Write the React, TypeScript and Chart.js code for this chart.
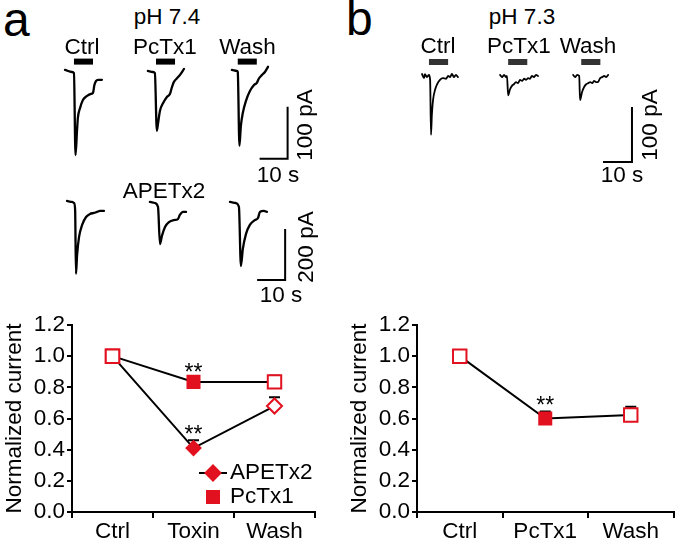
import React, { useEffect, useRef } from 'react';
import { Chart, registerables } from 'chart.js';

Chart.register(...registerables);

const FONT = '"Liberation Sans", Arial, Helvetica, sans-serif';
const FS = 22.5;
const RED = '#e2111f';
Chart.defaults.font.family = FONT;
Chart.defaults.color = '#000';

type Pt = [number, number]; // [time from sweep start (s), current (pA)]

// ---------- Panel a, pH 7.4, PcTx1 row ----------
const aCtrlTrace: Pt[] = [
  [0, 4], [2.5, 0], [3.2, -2], [3.75, -160], [4.3, -112], [4.6, -88], [5.4, -69], [6.4, -54],
  [7.9, -46], [9.3, -42], [10.0, -40], [10.5, -25], [11.1, -17], [11.8, -15], [13.2, -15],
];
const aPcTx1Trace: Pt[] = [
  [0, 2], [1.8, 0], [2.5, -2], [3.2, -113], [3.6, -100], [4.3, -75], [5.4, -60], [6.8, -48],
  [7.9, -42], [8.6, -29], [9.3, -19], [10.4, -12], [11.4, -6], [12.9, 6],
];
const aWashTrace: Pt[] = [
  [0, 4], [1.8, 2], [2.1, 0], [2.7, -142], [3.2, -104], [3.9, -79], [5.0, -56], [6.4, -37],
  [7.9, -25], [8.9, -21], [9.6, -13], [10.7, -6], [11.8, 0], [12.9, 10],
];
const aSweepStarts = [0, 29.6, 59.6];
const aStimOn = [3.2, 2.9, 2.1];
const aStimDur = 6.8;

// ---------- Panel a, APETx2 row ----------
const a2CtrlTrace: Pt[] = [
  [0, 8], [1.8, 4], [2.5, 0], [2.9, -27], [3.2, -278], [3.6, -204], [4.3, -133], [5.4, -86],
  [6.8, -55], [8.2, -43], [9.6, -39], [10.7, -35], [11.8, -31], [13.2, -31],
];
const a2ApetTrace: Pt[] = [
  [0, 4], [1.8, 0], [2.9, -16], [3.6, -161], [4.3, -129], [5.4, -94], [6.8, -75], [8.6, -67],
  [10.0, -63], [10.7, -47], [11.8, -35], [12.9, -35],
];
const a2WashTrace: Pt[] = [
  [0, 4], [2.1, 0], [3.2, -16], [3.9, -247], [4.6, -180], [5.7, -122], [7.1, -86], [8.9, -67],
  [10.0, -59], [10.7, -35], [12.1, -31], [13.2, -35],
];
const a2SweepStarts = [0, 29.6, 58.2];

// ---------- Panel b, pH 7.3 ----------
const bCtrlTrace: Pt[] = [
  [0, 3.6], [0.7, -3.6], [1.0, 3.6], [1.7, -1.8], [2.4, 1.8], [2.8, -7], [3.1, -107], [3.4, -71],
  [3.8, -44], [4.5, -25], [5.2, -15], [6.2, -7], [7.2, -4], [8.3, -5], [9.0, 0], [9.7, -2],
  [10.3, 4], [11.0, -2], [11.7, 2], [12.4, -2],
];
const bPcTx1Trace: Pt[] = [
  [0, 2], [0.7, -2], [1.4, 2], [2.1, -2], [2.4, 0], [2.8, -35], [3.4, -25], [4.1, -18], [4.8, -15],
  [5.5, -11], [6.2, -13], [6.9, -7], [7.6, -9], [8.3, -5], [9.0, -7], [9.7, -4], [10.3, -5],
  [11.0, 0], [11.7, -2], [12.4, 2], [13.1, 0],
];
const bWashTrace: Pt[] = [
  [0, 2], [0.7, -2], [1.4, 2], [2.1, 0], [2.4, -44], [3.1, -29], [3.8, -20], [4.5, -15], [5.2, -13],
  [5.9, -11], [6.6, -13], [7.2, -9], [7.9, -11], [8.6, -11], [9.3, -4], [10.0, -2], [10.7, 0],
  [11.4, -2], [12.1, 2],
];
const bSweepStarts = [0, 26.9, 52.1];
const bStimOn = [2.4, 2.8, 2.8];
const bStimDur = 6.6;

// ---------- Summary plots ----------
const conditionsA = ['Ctrl', 'Toxin', 'Wash'];
const apetx2Mean = [1.0, 0.41, 0.68];
const apetx2Sem = [0, 0.05, 0.057];
const pctx1MeanA = [1.0, 0.835, 0.835];
const pctx1SemA = [0, 0.02, 0.04];
const sigApetx2 = ['', '**', ''];
const sigPctx1A = ['', '**', ''];

const conditionsB = ['Ctrl', 'PcTx1', 'Wash'];
const pctx1MeanB = [1.0, 0.6, 0.623];
const pctx1SemB = [0, 0.045, 0.052];
const sigPctx1B = ['', '**', ''];

// ---------- helpers ----------
type ScaleBar = { t: number; i: number; dt: number; di: number };

function buildTraceConfig(p: {
  sweeps: Pt[][]; starts: number[]; stimOn?: number[]; stimDur?: number; stimLevel?: number;
  stimColor?: string; scaleBar: ScaleBar; xMin: number; xMax: number; yMin: number; yMax: number; lw: number;
}): any {
  const datasets: any[] = [];
  p.sweeps.forEach((sw, k) => {
    datasets.push({
      data: sw.map(([t, i]) => ({ x: p.starts[k] + t, y: i })),
      borderColor: '#000', borderWidth: p.lw, cubicInterpolationMode: 'monotone',
      pointRadius: 0, borderJoinStyle: 'round', borderCapStyle: 'round', fill: false,
    });
    if (p.stimOn) {
      const on = p.starts[k] + p.stimOn[k];
      datasets.push({
        data: [{ x: on, y: p.stimLevel }, { x: on + (p.stimDur as number), y: p.stimLevel }],
        borderColor: p.stimColor, borderWidth: 6, borderCapStyle: 'butt', pointRadius: 0, fill: false,
      });
    }
  });
  const sb = p.scaleBar;
  datasets.push({
    data: [{ x: sb.t - sb.dt, y: sb.i - sb.di }, { x: sb.t, y: sb.i - sb.di }, { x: sb.t, y: sb.i }],
    borderColor: '#000', borderWidth: 2, pointRadius: 0, borderCapStyle: 'butt', borderJoinStyle: 'miter', fill: false,
  });
  return {
    type: 'line',
    data: { datasets },
    options: {
      animation: false, responsive: false, events: [],
      layout: { padding: 0 },
      plugins: { legend: { display: false }, tooltip: { enabled: false } },
      scales: {
        x: { type: 'linear', display: false, min: p.xMin, max: p.xMax },
        y: { type: 'linear', display: false, min: p.yMin, max: p.yMax },
      },
    },
  };
}

function drawMarker(ctx: CanvasRenderingContext2D, style: string, x: number, y: number, r: number, fill: string) {
  ctx.save();
  ctx.beginPath();
  if (style === 'rectRot') {
    ctx.moveTo(x, y - r); ctx.lineTo(x + r, y); ctx.lineTo(x, y + r); ctx.lineTo(x - r, y); ctx.closePath();
  } else {
    const s = r * Math.SQRT1_2;
    ctx.rect(x - s, y - s, 2 * s, 2 * s);
  }
  ctx.fillStyle = fill; ctx.fill();
  ctx.strokeStyle = RED; ctx.lineWidth = 2; ctx.stroke();
  ctx.restore();
}

const errorBarPlugin = {
  id: 'errorBars',
  beforeDatasetsDraw(chart: any) {
    const { ctx } = chart; const ys = chart.scales.y;
    chart.data.datasets.forEach((ds: any, di: number) => {
      const meta = chart.getDatasetMeta(di);
      meta.data.forEach((pt: any, j: number) => {
        const e = ds.sem ? ds.sem[j] : 0;
        if (!e) return;
        const top = ys.getPixelForValue(ds.data[j] + e);
        ctx.save(); ctx.strokeStyle = '#000'; ctx.lineWidth = 2;
        ctx.beginPath(); ctx.moveTo(pt.x, pt.y); ctx.lineTo(pt.x, top);
        ctx.moveTo(pt.x - 5.5, top); ctx.lineTo(pt.x + 5.5, top); ctx.stroke(); ctx.restore();
      });
    });
  },
  afterDatasetsDraw(chart: any) {
    const { ctx } = chart; const ys = chart.scales.y;
    chart.data.datasets.forEach((ds: any, di: number) => {
      const meta = chart.getDatasetMeta(di);
      meta.data.forEach((pt: any, j: number) => {
        const s = ds.sig ? ds.sig[j] : '';
        if (!s) return;
        const top = ys.getPixelForValue(ds.data[j] + (ds.sem ? ds.sem[j] : 0));
        ctx.save(); ctx.fillStyle = '#000'; ctx.font = `23px ${FONT}`;
        ctx.textAlign = 'center'; ctx.textBaseline = 'alphabetic';
        ctx.fillText(s, pt.x, top + 1.5); ctx.restore();
      });
    });
  },
};

function makeLegendPlugin(enabled: boolean) {
  return {
    id: 'sampleLegend',
    afterDraw(chart: any) {
      if (!enabled) return;
      const { ctx } = chart; const { right, bottom } = chart.chartArea;
      chart.data.datasets.forEach((ds: any, d: number) => {
        const cy = bottom - 39 + d * 24;
        const cx = right - 102;
        if (ds.legendLine) {
          ctx.save(); ctx.strokeStyle = '#000'; ctx.lineWidth = 2;
          ctx.beginPath(); ctx.moveTo(cx - 14, cy); ctx.lineTo(cx + 14, cy); ctx.stroke(); ctx.restore();
        }
        drawMarker(ctx, ds.legendStyle, cx, cy, ds.legendStyle === 'rectRot' ? 7.5 : 8.5, RED);
        ctx.save(); ctx.fillStyle = '#000'; ctx.font = `${FS}px ${FONT}`;
        ctx.textAlign = 'left'; ctx.textBaseline = 'middle';
        ctx.fillText(ds.label, cx + 17, cy); ctx.restore();
      });
    },
  };
}

function buildSummaryConfig(labels: string[], datasets: any[], legend: boolean, padRight: number): any {
  return {
    type: 'line',
    data: { labels, datasets },
    options: {
      animation: false, responsive: false, events: [],
      layout: { padding: { left: 0, top: 25, right: padRight, bottom: 0 } },
      plugins: { legend: { display: false }, tooltip: { enabled: false } },
      scales: {
        x: {
          type: 'category', offset: true,
          grid: { offset: true, drawOnChartArea: false, color: '#000', lineWidth: 2, tickLength: 6 },
          border: { color: '#000', width: 2 },
          ticks: { color: '#000', font: { size: FS }, padding: 0, maxRotation: 0, autoSkip: false },
          afterFit: (s: any) => { s.height = 31; },
        },
        y: {
          min: 0, max: 1.2,
          ticks: { stepSize: 0.2, color: '#000', font: { size: FS }, padding: 2, callback: (v: any) => Number(v).toFixed(1) },
          grid: { drawOnChartArea: false, color: '#000', lineWidth: 2, tickLength: 5 },
          border: { color: '#000', width: 2 },
          title: { display: true, text: 'Normalized current', color: '#000', font: { size: FS }, padding: { top: 1.5, bottom: 0 } },
          afterFit: (s: any) => { s.width = 72; },
        },
      },
    },
    plugins: [errorBarPlugin, makeLegendPlugin(legend)],
  };
}

function ChartCanvas({ config, left, top, width, height }: any) {
  const ref = useRef<HTMLCanvasElement>(null);
  useEffect(() => {
    const chart = new Chart(ref.current as HTMLCanvasElement, config);
    return () => chart.destroy();
  }, []);
  return (
    <canvas ref={ref} width={width} height={height}
      style={{ position: 'absolute', left, top, width, height }} />
  );
}

function Label({ text, x, y, size = FS, rotate = false }: any) {
  return (
    <div style={{
      position: 'absolute', left: x, top: y,
      transform: `translate(-50%, -50%)${rotate ? ' rotate(-90deg)' : ''}`,
      fontSize: size, lineHeight: 1, fontFamily: FONT, whiteSpace: 'nowrap', color: '#000',
    }}>{text}</div>
  );
}

export default function App() {
  const aTop = buildTraceConfig({
    sweeps: [aCtrlTrace, aPcTx1Trace, aWashTrace], starts: aSweepStarts,
    stimOn: aStimOn, stimDur: aStimDur, stimLevel: 20, stimColor: '#000',
    scaleBar: { t: 79.5, i: -67, dt: 10, di: 100 },
    xMin: -3.57, xMax: 91.07, yMin: -188.5, yMax: 32.7, lw: 2.3,
  });
  const aBottom = buildTraceConfig({
    sweeps: [a2CtrlTrace, a2ApetTrace, a2WashTrace], starts: a2SweepStarts,
    scaleBar: { t: 77.9, i: -102, dt: 10, di: 200 },
    xMin: -4.29, xMax: 90.35, yMin: -341.2, yMax: 70.6, lw: 2.3,
  });
  const bTop = buildTraceConfig({
    sweeps: [bCtrlTrace, bPcTx1Trace, bWashTrace], starts: bSweepStarts,
    stimOn: bStimOn, stimDur: bStimDur, stimLevel: 25.5, stimColor: '#333',
    scaleBar: { t: 72.4, i: -56.4, dt: 10, di: 100 },
    xMin: -4.14, xMax: 88.96, yMin: -170.9, yMax: 38.2, lw: 1.8,
  });

  const summaryA = buildSummaryConfig(conditionsA, [
    {
      label: 'APETx2', data: apetx2Mean, sem: apetx2Sem, sig: sigApetx2,
      borderColor: '#000', borderWidth: 2, fill: false,
      pointStyle: ['rect', 'rectRot', 'rectRot'], pointRadius: [9.5, 7, 7.5],
      pointBackgroundColor: ['#fff', RED, '#fff'], pointBorderColor: RED, pointBorderWidth: 2,
      legendLine: true, legendStyle: 'rectRot',
    },
    {
      label: 'PcTx1', data: pctx1MeanA, sem: pctx1SemA, sig: sigPctx1A,
      borderColor: '#000', borderWidth: 2, fill: false,
      pointStyle: 'rect', pointRadius: [9.5, 8.5, 9.5],
      pointBackgroundColor: ['#fff', RED, '#fff'], pointBorderColor: RED, pointBorderWidth: 2,
      legendLine: false, legendStyle: 'rect',
    },
  ], true, 30);

  const summaryB = buildSummaryConfig(conditionsB, [
    {
      label: 'PcTx1', data: pctx1MeanB, sem: pctx1SemB, sig: sigPctx1B,
      borderColor: '#000', borderWidth: 2, fill: false,
      pointStyle: 'rect', pointRadius: [9.5, 8.5, 9.5],
      pointBackgroundColor: ['#fff', RED, '#fff'], pointBorderColor: RED, pointBorderWidth: 2,
    },
  ], false, 7);

  return (
    <div style={{ position: 'absolute', left: 0, top: 0, width: 685, height: 543, background: '#fff', overflow: 'hidden' }}>
      <ChartCanvas config={aTop} left={55} top={55} width={265} height={115} />
      <ChartCanvas config={aBottom} left={55} top={185} width={265} height={105} />
      <ChartCanvas config={bTop} left={410} top={55} width={270} height={115} />
      <ChartCanvas config={summaryA} left={0} top={300} width={345} height={243} />
      <ChartCanvas config={summaryB} left={345} top={300} width={340} height={243} />

      <div style={{ position: 'absolute', left: 3, top: -4, fontSize: 48, lineHeight: 1, fontFamily: FONT }}>a</div>
      <div style={{ position: 'absolute', left: 346, top: -5, fontSize: 48, lineHeight: 1, fontFamily: FONT }}>b</div>

      <Label text="pH 7.4" x={167} y={17} />
      <Label text="Ctrl" x={82} y={46.5} />
      <Label text="PcTx1" x={165} y={46.5} />
      <Label text="Wash" x={247.5} y={46.5} />
      <Label text="100 pA" x={304.5} y={125} rotate />
      <Label text="10 s" x={278} y={174.5} />
      <Label text="APETx2" x={164} y={190.5} />
      <Label text="200 pA" x={305.5} y={247} rotate />
      <Label text="10 s" x={281} y={295} />

      <Label text="pH 7.3" x={522} y={17} />
      <Label text="Ctrl" x={438} y={46} />
      <Label text="PcTx1" x={519} y={46} />
      <Label text="Wash" x={588} y={46} />
      <Label text="100 pA" x={650} y={125} rotate />
      <Label text="10 s" x={622} y={174.5} />
    </div>
  );
}
